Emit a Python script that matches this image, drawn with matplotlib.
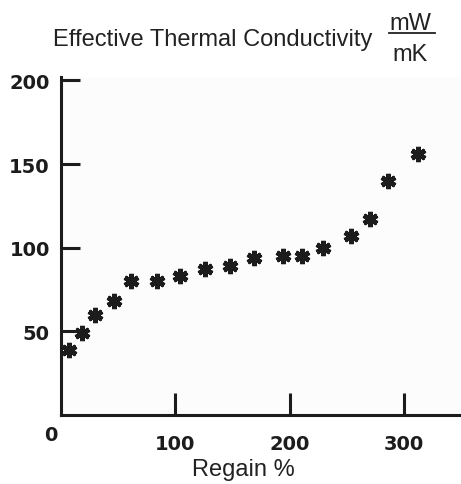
import matplotlib
matplotlib.use('Agg')
import matplotlib.pyplot as plt
from matplotlib.lines import Line2D

# data
regain = [7, 18, 30, 46, 61, 84, 104, 126, 148, 169, 194, 211, 229, 254, 270, 286, 312]
conductivity = [39, 49, 60, 68, 80, 80, 83, 87, 89, 94, 95, 95, 100, 107, 117, 140, 156]
x_ticks = [100, 200, 300]
y_ticks = [50, 100, 150, 200]

ink = '#1c1c1c'
W, H = 461, 485

fig = plt.figure(figsize=(W / 100, H / 100), dpi=100)
fig.patch.set_facecolor('white')

# axes box in pixels: left 61, right 461, top 78, bottom 416
ax = fig.add_axes([61 / W, 1 - 416 / H, (461 - 61) / W, (416 - 78) / H])
ax.set_facecolor('#fcfcfc')
ax.plot(regain, conductivity, linestyle='none', marker=(6, 2, 0),
        markersize=11, markeredgewidth=3.4, color=ink)

ax.set_xlim(0, 350)
ax.set_ylim(0, 202)
for s in ['top', 'right']:
    ax.spines[s].set_visible(False)
for s in ['left', 'bottom']:
    ax.spines[s].set_color(ink)
    ax.spines[s].set_linewidth(2.2)

ax.set_xticks(x_ticks)
ax.set_yticks(y_ticks)
ax.tick_params(axis='both', direction='in', colors=ink, width=2.2,
               labelsize=14)
ax.tick_params(axis='x', length=16, pad=14)
ax.tick_params(axis='y', length=14, pad=8)
for lab in ax.get_xticklabels() + ax.get_yticklabels():
    lab.set_fontweight('bold')
    lab.set_family('DejaVu Sans')

# lone "0" at the origin
ax.text(-3, -6, '0', ha='right', va='top', fontsize=14, fontweight='bold',
        color=ink, transform=ax.transData, clip_on=False)

font = 'Liberation Sans'
fig.text(372 / W, 1 - 40 / H, 'Effective Thermal Conductivity', ha='right',
         va='center', fontsize=17, family=font, color='#222222')
fig.text(410 / W, 1 - 24 / H, 'mW', ha='center', va='center', fontsize=17,
         family=font, color='#222222')
fig.text(410 / W, 1 - 55 / H, 'mK', ha='center', va='center', fontsize=17,
         family=font, color='#222222')
fig.add_artist(Line2D([389 / W, 435 / W], [1 - 34 / H, 1 - 34 / H],
                      transform=fig.transFigure, color='#222222', lw=1.3))

fig.text(243 / W, 1 - 470 / H, 'Regain %', ha='center', va='center',
         fontsize=17, family=font, color='#222222')

fig.savefig('out.png', dpi=100)
